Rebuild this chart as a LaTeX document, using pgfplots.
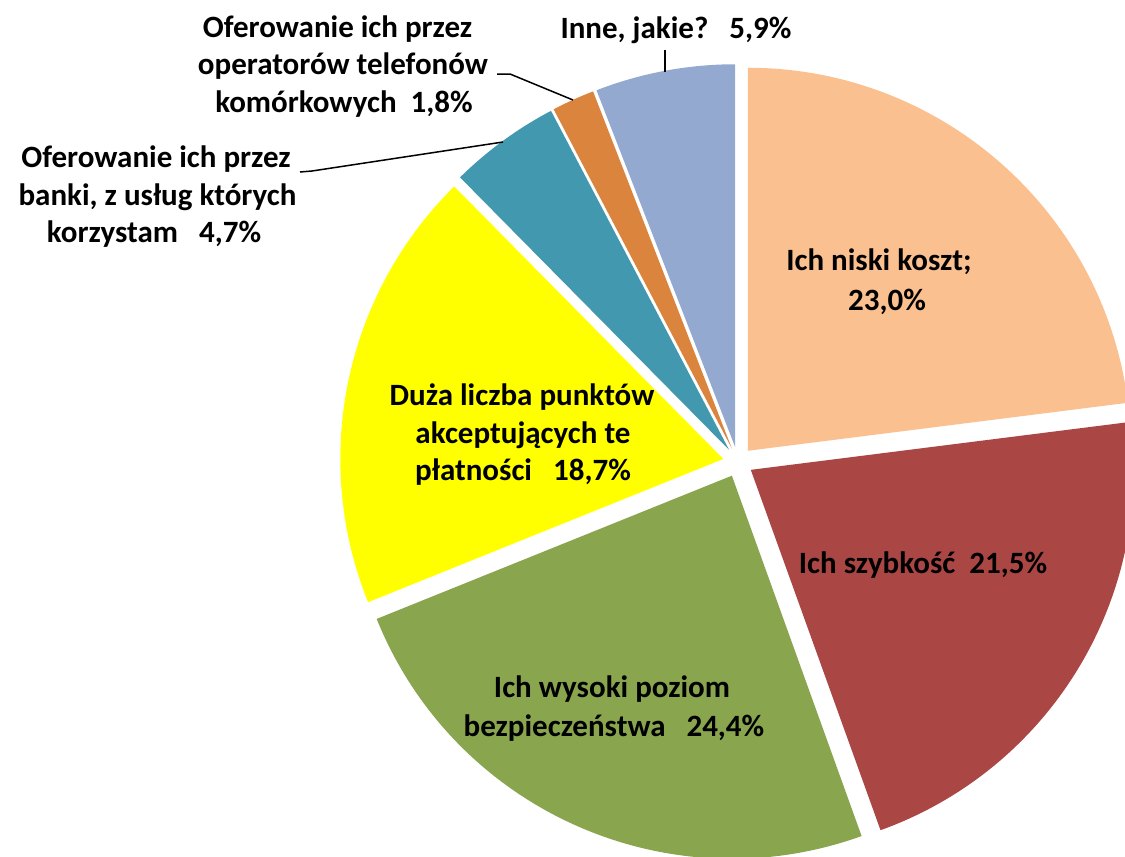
\documentclass[border=0pt]{standalone}
\usepackage{pgfplots}
\pgfplotsset{compat=1.18}
\usepackage{pgfplotstable}
\usepackage{fontspec}
\setmainfont{Carlito}
\usetikzlibrary{calc}
\definecolor{cPeach}{HTML}{FAC090}
\definecolor{cRed}{HTML}{AA4643}
\definecolor{cGreen}{HTML}{89A54E}
\definecolor{cYellow}{HTML}{FFFF00}
\definecolor{cTeal}{HTML}{4198AF}
\definecolor{cOrange}{HTML}{DB843D}
\definecolor{cBlue}{HTML}{93A9CF}
\newcommand{\lblfont}{\fontsize{31}{37}\selectfont\bfseries}
\tikzset{lbl/.style={font=\lblfont, inner sep=0pt, anchor=base}}
\pgfplotstableread{
value color
23.0 cPeach
21.5 cRed
24.4 cGreen
18.7 cYellow
4.7 cTeal
1.8 cOrange
5.9 cBlue
}\piedata
\begin{document}
\begin{tikzpicture}
\begin{axis}[scale only axis, width=1125pt, height=857pt,
  xmin=0, xmax=1125, ymin=0, ymax=857, y dir=reverse,
  hide axis, clip=false]
\def\cx{738}\def\cy{462}\def\R{383}\def\ex{15}
\pgfmathsetmacro\cum{0}
\pgfplotsforeachungrouped \i in {0,...,6}{%
  \pgfplotstablegetelem{\i}{value}\of\piedata \let\v\pgfplotsretval
  \pgfplotstablegetelem{\i}{color}\of\piedata \let\c\pgfplotsretval
  \pgfmathsetmacro\sa{90-3.6*\cum}%
  \pgfmathsetmacro\ea{90-3.6*(\cum+\v)}%
  \pgfmathsetmacro\ma{(\sa+\ea)/2}%
  \edef\temp{\noexpand\fill[\c] ($(axis cs:\cx,\cy)+(\ma:\ex pt)$) -- ++(\sa:\R pt) arc[start angle=\sa, end angle=\ea, radius=\R pt] -- cycle;}%
  \temp
  \pgfmathsetmacro\cum{\cum+\v}%
}
% leader lines
\draw[black, line width=1.5pt] (axis cs:665,50) -- (axis cs:665,72);
\draw[black, line width=1.5pt] (axis cs:497,74) -- (axis cs:510,74) -- (axis cs:573,100);
\draw[black, line width=1.5pt] (axis cs:300,172) -- (axis cs:312,171) -- (axis cs:503,142);
% labels
\node[lbl] at (axis cs:879,270.5) {Ich niski koszt;};
\node[lbl] at (axis cs:887,310) {23,0\%};
\node[lbl] at (axis cs:923,573) {Ich szybkość~~21,5\%};
\node[lbl] at (axis cs:612,697) {Ich wysoki poziom};
\node[lbl] at (axis cs:614,736) {bezpieczeństwa~~~24,4\%};
\node[lbl] at (axis cs:522,405) {Duża liczba punktów};
\node[lbl] at (axis cs:523,443) {akceptujących te};
\node[lbl] at (axis cs:523,480) {płatności~~~18,7\%};
\node[lbl] at (axis cs:156,167) {Oferowanie ich przez};
\node[lbl] at (axis cs:157.5,205) {banki, z usług których};
\node[lbl] at (axis cs:154,242) {korzystam~~~4,7\%};
\node[lbl] at (axis cs:337.5,37) {Oferowanie ich przez};
\node[lbl] at (axis cs:343,74.5) {operatorów telefonów};
\node[lbl] at (axis cs:344,112) {komórkowych~~1,8\%};
\node[lbl] at (axis cs:676,38) {Inne, jakie?~~~5,9\%};
\end{axis}
\pgfresetboundingbox
\path (current axis.south west) rectangle (current axis.north east);
\end{tikzpicture}
\end{document}
